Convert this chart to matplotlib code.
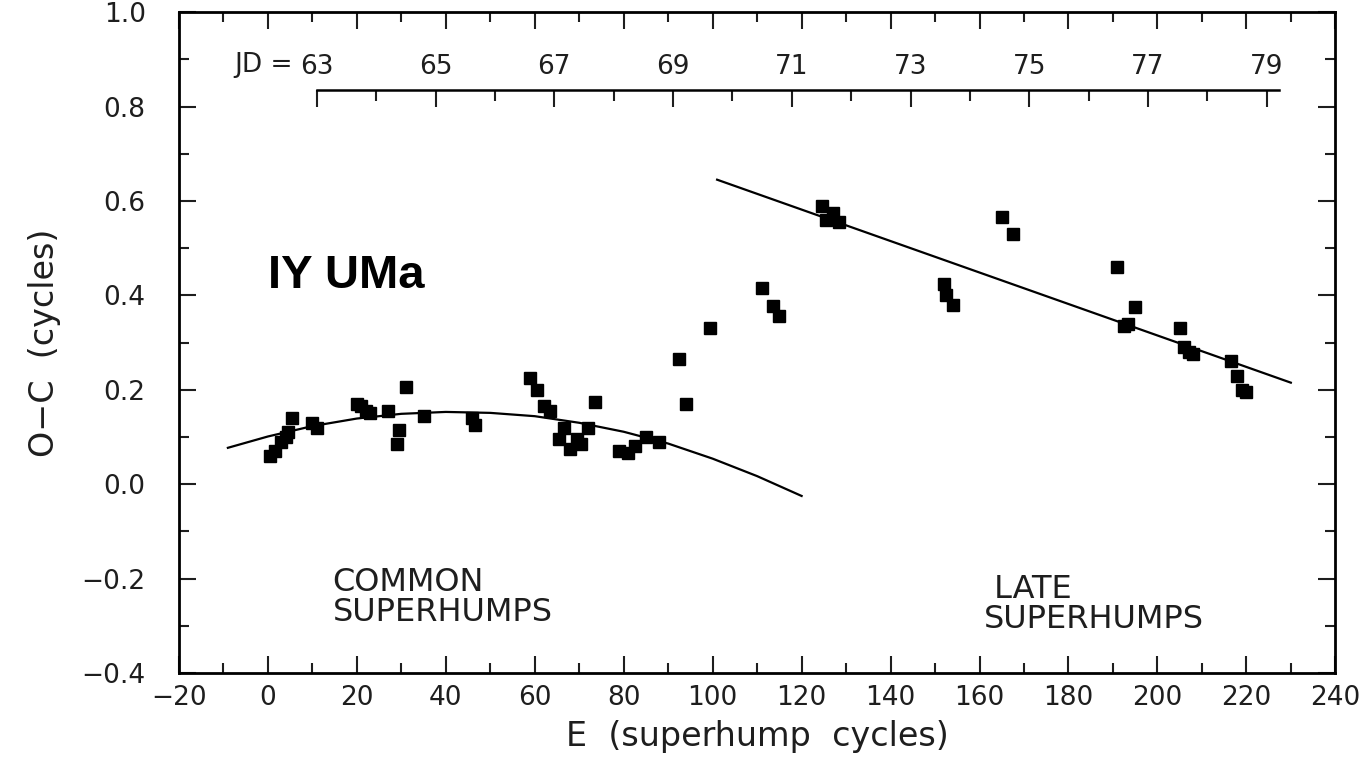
import matplotlib
matplotlib.use('Agg')
import matplotlib.pyplot as plt
from matplotlib.ticker import MultipleLocator, FixedLocator
from matplotlib.transforms import blended_transform_factory

# common superhumps
COMMON_E = [0.5, 1.5, 3, 4, 4.5, 5.5, 10, 11, 20, 21, 22, 23, 27, 29, 29.5,
            31, 35, 46, 46.5, 59, 60.5, 62, 63.5, 65.5, 66.5, 68, 69.5, 70.5,
            72, 73.5, 79, 81, 82.5, 85, 88]
COMMON_OC = [0.06, 0.07, 0.09, 0.10, 0.11, 0.14, 0.13, 0.12, 0.17, 0.165,
             0.155, 0.15, 0.155, 0.085, 0.115, 0.205, 0.145, 0.14, 0.125,
             0.225, 0.20, 0.165, 0.155, 0.095, 0.12, 0.075, 0.095, 0.085,
             0.12, 0.175, 0.07, 0.065, 0.08, 0.10, 0.09]

# transition
MID_E = [92.5, 94, 99.5, 111, 113.5, 115]
MID_OC = [0.265, 0.17, 0.33, 0.415, 0.377, 0.357]

# late superhumps
LATE_E = [124.5, 125.5, 127, 128.5, 152, 152.5, 154, 165, 167.5, 191, 192.5,
          193.5, 195, 205, 206, 207, 208, 216.5, 218, 219, 220]
LATE_OC = [0.59, 0.56, 0.575, 0.555, 0.425, 0.40, 0.38, 0.565, 0.53, 0.46,
           0.335, 0.34, 0.375, 0.33, 0.29, 0.28, 0.275, 0.26, 0.23, 0.20,
           0.195]

# fitted curves
COMMON_FIT_E = [-9, 0, 10, 20, 30, 40, 50, 60, 70, 80, 90, 100, 110, 120]
COMMON_FIT_OC = [0.077, 0.101, 0.123, 0.139, 0.149, 0.153, 0.151, 0.144,
                 0.130, 0.111, 0.086, 0.054, 0.017, -0.025]
LATE_FIT_E = [101, 230]
LATE_FIT_OC = [0.645, 0.215]

JD_TICKS = [63, 65, 67, 69, 71, 73, 75, 77, 79]
CYCLES_PER_DAY = 13.35
E_AT_JD63 = 11.0

INK = '#1e1e1e'


def e2jd(e):
    return 63 + (e - E_AT_JD63) / CYCLES_PER_DAY


def jd2e(jd):
    return E_AT_JD63 + (jd - 63) * CYCLES_PER_DAY


def main():
    plt.rcParams['font.family'] = ['DejaVu Sans']
    fig = plt.figure(figsize=(13.62, 7.57), dpi=100)
    ax = fig.add_axes([0.1314, 0.111, 0.849, 0.873])

    ms = 9
    ax.plot(COMMON_E, COMMON_OC, 's', color='black', ms=ms)
    ax.plot(MID_E, MID_OC, 's', color='black', ms=ms)
    ax.plot(LATE_E, LATE_OC, 's', color='black', ms=ms)
    ax.plot(COMMON_FIT_E, COMMON_FIT_OC, color='black', lw=1.6)
    ax.plot(LATE_FIT_E, LATE_FIT_OC, color='black', lw=1.6)

    ax.set_xlim(-20, 240)
    ax.set_ylim(-0.4, 1.0)
    ax.xaxis.set_major_locator(MultipleLocator(20))
    ax.xaxis.set_minor_locator(MultipleLocator(10))
    ax.yaxis.set_major_locator(MultipleLocator(0.2))
    ax.yaxis.set_minor_locator(MultipleLocator(0.1))
    ax.yaxis.set_major_formatter(lambda v, pos: f'{v:.1f}'.replace('-', '\u2212'))
    ax.tick_params(which='both', direction='in', top=True, right=True,
                   width=1.5, labelsize=19, colors=INK)
    ax.tick_params(which='major', length=12)
    ax.tick_params(which='minor', length=7)
    ax.tick_params(axis='x', pad=9)
    ax.tick_params(axis='y', pad=24)
    for sp in ax.spines.values():
        sp.set_linewidth(2)

    ax.set_xlabel('E  (superhump  cycles)', fontsize=24, labelpad=6,
                  color=INK)
    ax.set_ylabel('O\u2212C  (cycles)', fontsize=24, labelpad=15, color=INK)

    # JD scale drawn inside the frame
    secax = ax.secondary_xaxis(0.882, functions=(e2jd, jd2e))
    secax.xaxis.set_major_locator(FixedLocator(JD_TICKS))
    secax.xaxis.set_minor_locator(FixedLocator(range(63, 80)))
    secax.tick_params(which='both', direction='in', width=1.5,
                      labelsize=19, colors=INK, pad=7)
    secax.tick_params(which='major', length=12)
    secax.tick_params(which='minor', length=8)
    for side in ('top', 'bottom'):
        secax.spines[side].set_bounds(63, 79.2)
        secax.spines[side].set_linewidth(1.8)
    trans = blended_transform_factory(ax.transData, ax.transAxes)
    ax.text(jd2e(62.6), 0.9, 'JD =', transform=trans, ha='right',
            va='bottom', fontsize=19, color=INK)

    ax.text(0, 0.44, 'IY UMa', fontsize=34, fontweight='bold',
            family='Liberation Sans', va='center')
    ax.text(14.5, -0.175, 'COMMON\nSUPERHUMPS', fontsize=23, va='top',
            linespacing=0.95, color=INK)
    ax.text(161, -0.19, ' LATE\nSUPERHUMPS', fontsize=23, va='top',
            linespacing=0.95, color=INK)

    fig.savefig('out.png', dpi=100)


if __name__ == '__main__':
    main()
